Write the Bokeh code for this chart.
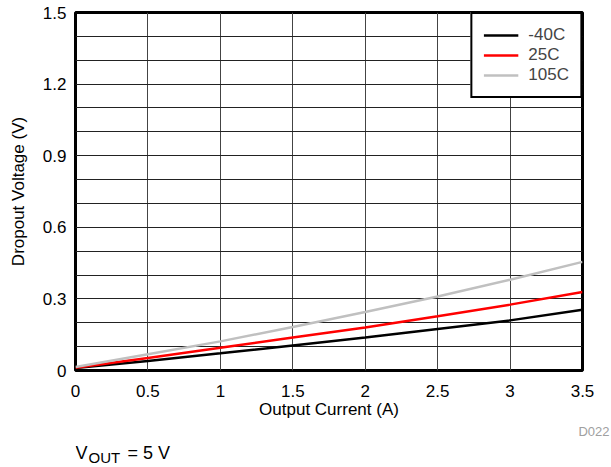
from bokeh.plotting import figure
from bokeh.models import FixedTicker, Legend, LegendItem, Title
from bokeh.layouts import column
from bokeh.core.properties import value
from bokeh.embed import file_html
from bokeh.resources import INLINE

current = [0, 0.5, 1.0, 1.5, 2.0, 2.5, 3.0, 3.5]
v_m40 = [0.01, 0.04, 0.072, 0.105, 0.138, 0.174, 0.21, 0.255]
v_25 = [0.012, 0.052, 0.095, 0.138, 0.18, 0.227, 0.276, 0.329]
v_105 = [0.015, 0.068, 0.122, 0.182, 0.245, 0.31, 0.38, 0.455]
series_names = ["-40C", "25C", "105C"]
series_colors = ["#000000", "#ff0000", "#c0c0c0"]
x_ticks = [0, 0.5, 1, 1.5, 2, 2.5, 3, 3.5]
x_labels = ["0", "0.5", "1", "1.5", "2", "2.5", "3", "3.5"]
y_ticks = [0, 0.3, 0.6, 0.9, 1.2, 1.5]
y_labels = ["0", "0.3", "0.6", "0.9", "1.2", "1.5"]
y_minor = [0.1, 0.2, 0.4, 0.5, 0.7, 0.8, 1.0, 1.1, 1.3, 1.4]
note_parts = ["V", "OUT", "= 5 V"]

FONT = "Liberation Sans"
FS = "17px"
MAIN_H = 438
FOOT_H = 467 - MAIN_H
FRAME_L, FRAME_R = 75, 582

p = figure(width=611, height=MAIN_H, x_range=(0, 3.5), y_range=(0, 1.5),
           output_backend="svg", toolbar_location=None,
           min_border_left=FRAME_L, min_border_right=611 - FRAME_R, min_border_top=12,
           min_border_bottom=MAIN_H - 371)
p.outline_line_color = "black"
p.outline_line_width = 3
p.background_fill_color = "white"
p.border_fill_color = "white"

p.xaxis.ticker = FixedTicker(ticks=x_ticks)
p.xaxis.major_label_overrides = {t: l for t, l in zip(x_ticks, x_labels)}
p.yaxis.ticker = FixedTicker(ticks=y_ticks, minor_ticks=y_minor)
p.yaxis.major_label_overrides = {t: l for t, l in zip(y_ticks, y_labels)}

for ax in (p.xaxis[0], p.yaxis[0]):
    ax.axis_line_color = None
    ax.major_tick_line_color = None
    ax.minor_tick_line_color = None
    ax.major_tick_in = 0
    ax.major_tick_out = 0
    ax.minor_tick_in = 0
    ax.minor_tick_out = 0
    ax.major_label_text_font = FONT
    ax.major_label_text_font_size = FS
    ax.major_label_text_color = "black"
    ax.axis_label_text_font = FONT
    ax.axis_label_text_font_size = FS
    ax.axis_label_text_font_style = "normal"
    ax.axis_label_text_color = "black"

p.xaxis.axis_label = "Output Current (A)"
p.yaxis.axis_label = "Dropout Voltage (V)"
p.xaxis.major_label_standoff = 14
p.xaxis.axis_label_standoff = 0
p.yaxis.major_label_standoff = 9
p.yaxis.axis_label_standoff = 12

p.xgrid.grid_line_color = "#444444"
p.xgrid.grid_line_width = 1
p.ygrid.grid_line_color = "#222222"
p.ygrid.grid_line_width = 1
p.ygrid.minor_grid_line_color = "#222222"
p.ygrid.minor_grid_line_width = 1

renderers = []
for ys, c in zip([v_m40, v_25, v_105], series_colors):
    r = p.line(current, ys, line_color=c, line_width=2.5)
    renderers.append(r)

legend = Legend(items=[LegendItem(label=n, renderers=[r]) for n, r in zip(series_names, renderers)],
                location="top_right")
legend.margin = 0
legend.padding = 11
legend.spacing = 0
legend.glyph_width = 35
legend.glyph_height = 20
legend.label_height = 20
legend.label_standoff = 10
legend.label_text_font = FONT
legend.label_text_font_size = FS
legend.border_line_color = "black"
legend.border_line_width = 2.5
legend.border_line_alpha = 1
legend.background_fill_alpha = 1
p.add_layout(legend)

p.add_layout(Title(text="D022", align="right", offset=-27, standoff=0,
                   text_font=FONT, text_font_size="13px", text_font_style="normal",
                   text_color="#a0a0a0"), "below")

# footer with the operating-condition note (V_OUT = 5 V); its frame is aligned
# with the main frame by the column layout, so its x range spans the frame pixels
f = figure(width=611, height=FOOT_H, x_range=(FRAME_L, FRAME_R), y_range=(0, FOOT_H),
           output_backend="svg", toolbar_location=None,
           x_axis_location=None, y_axis_location=None,
           min_border_left=FRAME_L, min_border_right=611 - FRAME_R,
           min_border_top=0, min_border_bottom=0)
f.grid.visible = False
f.outline_line_color = None
f.border_fill_color = "white"
f.background_fill_color = "white"
mid = FOOT_H - (452 - MAIN_H)
f.text(x=[75], y=[mid], text=[note_parts[0]], text_font=value(FONT),
       text_font_size="18px", text_baseline="middle", text_align="left", text_color="black")
f.text(x=[88], y=[mid - 5], text=[note_parts[1]], text_font=value(FONT),
       text_font_size="15px", text_baseline="middle", text_align="left", text_color="black")
f.text(x=[127], y=[mid], text=[note_parts[2]], text_font=value(FONT),
       text_font_size="18px", text_baseline="middle", text_align="left", text_color="black")

layout = column(p, f, spacing=0)
open("out.html", "w").write(file_html(layout, INLINE))
